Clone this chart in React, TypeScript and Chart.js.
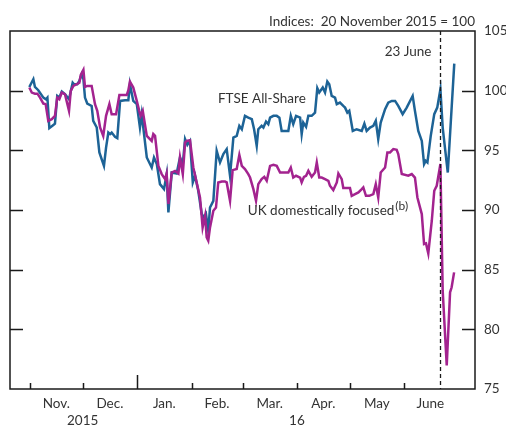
import React, { useEffect, useRef } from "react";
import { Chart, registerables } from "chart.js";
Chart.register(...registerables);

// x values are calendar days counted from 1 November 2015 (day 0)
const ftseDays = [-0.4,1.9,2.8,4.7,7.6,9.1,9.9,11.0,13.3,14.2,15.5,16.7,18.1,19.9,22.2,24.3,25.1,26.9,28.1,29.4,30.4,31.3,32.6,35.1,36.0,38.0,39.5,42.1,43.3,44.6,45.6,46.5,48.4,49.7,51.3,54.1,56.0,56.9,58.8,60.8,62.6,63.6,64.5,66.5,69.3,70.6,72.2,74.0,76.3,77.8,78.8,80.7,83.5,85.4,87.0,88.3,89.6,91.1,92.7,94.0,95.8,97.8,99.1,100.2,101.5,102.5,104.4,106.3,108.2,110.1,112.0,113.9,115.8,117.7,119.2,120.6,122.4,124.3,126.3,127.6,129.1,130.0,131.9,132.9,134.4,135.7,136.7,138.6,140.5,142.0,143.3,147.1,148.5,149.9,151.5,153.8,154.7,155.6,157.2,158.5,160.4,162.3,163.6,164.7,166.7,168.0,169.3,170.4,171.8,173.7,174.7,176.5,178.4,179.4,180.7,181.8,183.8,186.0,188.9,190.4,191.7,193.6,195.5,196.9,198.3,199.7,202.2,204.0,206.0,207.9,209.7,212.2,214.5,217.9,219.2,221.1,223.1,224.4,225.3,226.3,228.2,230.2,231.9,233.7,235.0,237.9,239.6,241.6];
const ftseValues = [100.31,100.96,100.31,100.04,99.42,99.28,99.42,96.86,97.13,97.24,99.56,99.42,99.92,99.70,99.28,100.67,100.54,100.54,100.82,101.38,100.96,99.42,98.92,98.72,97.47,96.91,94.82,93.70,95.23,96.49,96.36,96.49,96.13,96.02,99.14,99.20,99.20,100.54,99.14,98.87,96.91,98.03,96.91,94.40,93.56,94.40,93.85,92.17,91.75,93.01,89.79,93.14,93.06,94.40,93.85,95.94,95.46,95.79,92.31,92.87,91.61,89.66,89.38,89.66,88.26,90.21,90.77,94.96,93.98,94.68,95.10,92.87,96.07,96.21,97.05,96.77,97.89,97.74,97.61,96.77,95.38,96.77,97.05,96.91,97.41,97.19,97.74,97.89,97.89,97.74,96.63,96.63,97.89,97.19,97.89,97.74,96.36,97.33,96.97,97.89,97.89,98.16,100.21,99.84,100.26,99.84,100.76,100.54,99.56,99.42,98.87,99.0,98.72,98.58,98.16,98.31,96.63,96.77,96.63,97.24,96.63,96.91,97.05,97.47,95.94,97.33,98.45,99.0,99.14,99.14,98.72,98.03,98.58,99.56,98.31,96.63,95.79,93.85,94.12,93.98,96.21,98.03,98.58,100.12,96.91,93.14,97.33,102.26];

const ukDays = [-0.4,1.0,2.8,4.2,5.7,7.6,8.9,10.4,12.4,14.2,15.5,16.7,18.1,19.9,22.2,23.2,24.7,26.6,28.1,28.9,30.4,31.3,32.6,35.1,37.0,38.3,39.9,41.7,43.3,45.2,46.5,49.0,50.9,55.1,56.0,56.9,58.8,60.8,62.2,63.0,64.2,66.5,69.3,70.2,71.2,73.1,75.0,76.9,77.8,78.8,80.7,82.6,84.5,85.4,87.0,88.3,89.2,91.1,93.0,94.9,96.8,98.3,99.7,100.6,101.5,102.5,104.4,105.9,107.2,109.2,111.0,112.0,113.9,115.4,117.7,119.2,120.6,122.4,124.3,125.3,127.2,128.7,130.0,131.9,133.4,134.8,136.7,138.6,140.5,142.4,147.1,148.5,149.9,151.5,153.8,154.7,156.0,157.2,158.5,160.4,162.3,163.3,164.7,166.1,168.0,169.9,170.8,172.7,174.7,175.6,177.5,178.4,182.2,183.2,185.1,187.0,188.9,189.8,191.3,193.2,195.5,196.9,198.3,199.7,202.2,203.5,205.0,206.9,208.8,209.7,211.7,215.4,217.4,219.2,220.6,223.1,224.4,225.5,226.8,228.8,230.2,231.6,233.7,235.0,237.3,239.2,240.1,241.5];
const ukValues = [100.26,99.84,99.75,99.75,99.42,98.92,98.87,97.47,97.61,97.89,99.42,99.28,99.84,99.70,98.31,99.98,100.40,100.54,100.67,101.32,101.74,100.31,100.40,100.40,98.87,98.31,96.91,96.21,97.89,98.87,98.03,98.03,99.64,99.64,100.04,100.76,100.26,99.14,98.31,97.89,98.31,96.21,95.79,96.36,96.21,93.70,93.01,92.59,93.06,90.50,93.14,93.28,93.06,94.40,93.01,95.65,95.79,95.85,93.56,92.31,91.05,88.54,89.52,87.70,87.43,88.54,89.94,90.21,92.31,92.39,92.39,92.31,90.77,93.34,93.43,94.62,93.70,93.43,93.01,92.72,91.75,90.77,92.17,92.59,92.78,92.45,93.70,93.79,93.70,93.14,93.14,93.56,92.72,92.87,92.72,92.31,92.78,92.87,93.28,92.78,93.14,93.98,92.72,92.72,92.59,92.45,92.03,91.67,92.31,93.06,92.59,91.84,91.84,91.19,91.33,91.47,91.75,91.89,91.19,91.19,91.33,92.17,91.05,93.14,93.56,94.82,94.82,95.10,95.04,94.68,93.01,92.87,93.01,92.72,91.05,89.66,87.15,87.20,86.36,89.10,91.61,92.03,93.85,83.24,76.97,83.10,83.52,84.77];

const monthStarts = [0, 30, 61, 92, 121, 152, 182, 213];
const yearStartDay = 61;
const monthMids = [15, 45.5, 76.5, 106.5, 136.5, 167, 197.5, 228];
const monthLabels = ["Nov.", "Dec.", "Jan.", "Feb.", "Mar.", "Apr.", "May", "June"];
const yearDays = [30, 152];
const yearLabels = ["2015", "16"];
const yTicks = [75, 80, 85, 90, 95, 100, 105];
const referendumDay = 233.7;
const referendumLabel = "23 June";
const unitsLabel = "Indices:  20 November 2015 = 100";
const ftseLabel = "FTSE All-Share";
const ukLabel = "UK domestically focused";
const ukLabelSup = "(b)";
const ftseLabelPos = { x: 107, y: 99.0 };
const ukLabelPos = { x: 124, y: 89.6 };

const FONT = "Lato, 'DejaVu Sans', sans-serif";
const TEXT = "#333333";
const BLUE = "#1d6396";
const PURPLE = "#a3238f";

const decor = {
  id: "decor",
  afterDraw(chart: any) {
    const ctx = chart.ctx;
    const { left, right, top, bottom } = chart.chartArea;
    const xs = chart.scales.x;
    const ys = chart.scales.y;
    ctx.save();
    ctx.strokeStyle = "#1a1a1a";
    ctx.lineWidth = 1.5;
    ctx.strokeRect(left, top, right - left, bottom - top);
    ctx.beginPath();
    for (const v of yTicks) {
      if (v === yTicks[0] || v === yTicks[yTicks.length - 1]) continue;
      const py = Math.round(ys.getPixelForValue(v)) + 0.5;
      ctx.moveTo(left, py);
      ctx.lineTo(left + 13, py);
      ctx.moveTo(right - 13, py);
      ctx.lineTo(right, py);
    }
    for (const d of monthStarts) {
      const px = Math.round(xs.getPixelForValue(d)) + 0.5;
      const len = d === yearStartDay ? 14 : 6;
      ctx.moveTo(px, bottom);
      ctx.lineTo(px, bottom - len);
    }
    ctx.stroke();
    // referendum line
    ctx.beginPath();
    ctx.setLineDash([4, 3]);
    ctx.lineWidth = 1.3;
    const rx = Math.round(xs.getPixelForValue(referendumDay)) + 0.5;
    ctx.moveTo(rx, top);
    ctx.lineTo(rx, bottom);
    ctx.stroke();
    ctx.setLineDash([]);
    // texts
    ctx.fillStyle = TEXT;
    ctx.font = `13.5px ${FONT}`;
    ctx.textBaseline = "alphabetic";
    ctx.textAlign = "right";
    ctx.fillText(unitsLabel, right, 26);
    ctx.fillText(referendumLabel, rx - 9, 56);
    ctx.textAlign = "center";
    yearDays.forEach((d, i) => {
      ctx.fillText(yearLabels[i], xs.getPixelForValue(d), 425);
    });
    ctx.textAlign = "left";
    ctx.fillText(ftseLabel, xs.getPixelForValue(ftseLabelPos.x), ys.getPixelForValue(ftseLabelPos.y));
    const ux = xs.getPixelForValue(ukLabelPos.x);
    const uy = ys.getPixelForValue(ukLabelPos.y);
    ctx.fillText(ukLabel, ux, uy);
    const w = ctx.measureText(ukLabel).width;
    ctx.font = `12px ${FONT}`;
    ctx.fillText(ukLabelSup, ux + w + 1, uy - 5);
    ctx.restore();
  },
};

export default function App() {
  const ref = useRef<HTMLCanvasElement | null>(null);
  useEffect(() => {
    if (!ref.current) return;
    const chart = new Chart(ref.current, {
      type: "line",
      data: {
        datasets: [
          {
            label: ukLabel,
            data: ukDays.map((d, i) => ({ x: d, y: ukValues[i] })),
            borderColor: PURPLE,
            borderWidth: 2.5,
            pointRadius: 0,
            tension: 0,
            fill: false,
          },
          {
            label: ftseLabel,
            data: ftseDays.map((d, i) => ({ x: d, y: ftseValues[i] })),
            borderColor: BLUE,
            borderWidth: 2.5,
            pointRadius: 0,
            tension: 0,
            fill: false,
          },
        ],
      },
      options: {
        animation: false,
        responsive: true,
        maintainAspectRatio: false,
        devicePixelRatio: 1,
        layout: { padding: { left: 10, top: 31, right: 0, bottom: 0 } },
        plugins: { legend: { display: false }, tooltip: { enabled: false }, title: { display: false } },
        scales: {
          x: {
            type: "linear",
            position: "bottom",
            min: -11.4,
            max: 253.4,
            afterFit: (s: any) => { s.height = 37; },
            afterBuildTicks: (s: any) => { s.ticks = monthMids.map((v) => ({ value: v })); },
            grid: { display: false, drawTicks: false },
            border: { display: false },
            ticks: {
              autoSkip: false,
              maxRotation: 0,
              padding: 7,
              color: TEXT,
              font: { family: FONT, size: 13.5 },
              callback: (_v: any, i: number) => monthLabels[i],
            },
          },
          y: {
            position: "right",
            min: 75,
            max: 105,
            afterFit: (s: any) => { s.width = 31; },
            afterBuildTicks: (s: any) => { s.ticks = yTicks.map((v) => ({ value: v })); },
            grid: { display: false, drawTicks: false },
            border: { display: false },
            ticks: {
              padding: 9,
              color: TEXT,
              font: { family: FONT, size: 13.5 },
            },
          },
        },
      },
      plugins: [decor],
    });
    return () => chart.destroy();
  }, []);
  return (
    <div style={{ position: "fixed", left: 0, top: 0, width: 506, height: 426, background: "#fff" }}>
      <canvas ref={ref} />
    </div>
  );
}
